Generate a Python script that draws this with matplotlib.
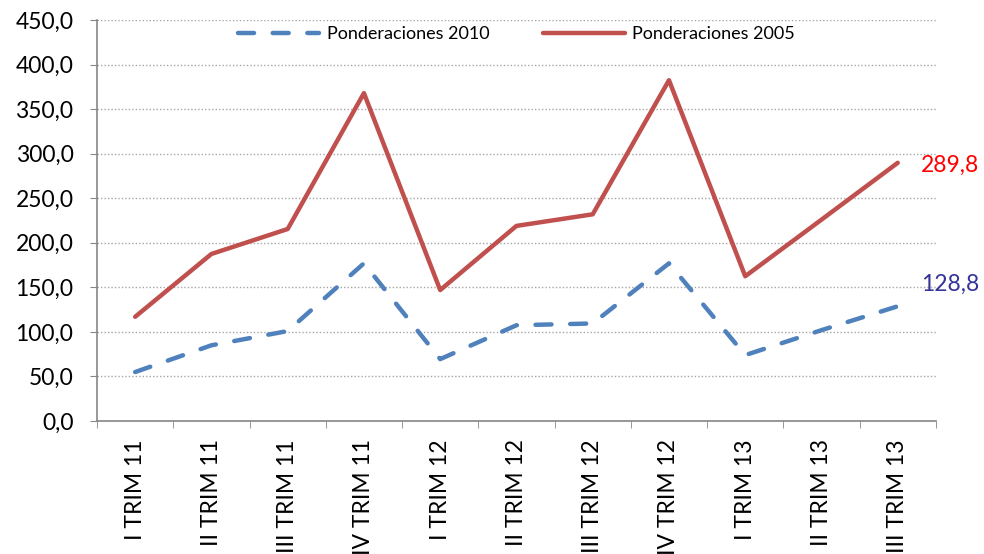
import numpy as np
import matplotlib.pyplot as plt
from matplotlib.ticker import FuncFormatter

# data
categorias = ['I TRIM 11', 'II TRIM 11', 'III TRIM 11', 'IV TRIM 11',
              'I TRIM 12', 'II TRIM 12', 'III TRIM 12', 'IV TRIM 12',
              'I TRIM 13', 'II TRIM 13', 'III TRIM 13']
pond_2010 = [55.0, 85.0, 101.0, 177.0, 69.5, 107.5, 109.5, 177.0, 74.0, 102.0, 128.8]
pond_2005 = [117.0, 187.5, 215.5, 368.0, 147.0, 219.0, 232.0, 382.5, 162.5, 226.0, 289.8]

plt.rcParams['font.family'] = ['Lato', 'DejaVu Sans']

fig = plt.figure(figsize=(9.84, 5.54), dpi=100)
ax = fig.add_axes([0.0986, 0.24, 0.8525, 0.7238])

x = np.arange(len(categorias))
ax.plot(x, pond_2010, color='#4F81BD', lw=3.2, dashes=(3.6, 4.2),
        dash_capstyle='round', label='Ponderaciones 2010')
ax.plot(x, pond_2005, color='#C0504D', lw=3.2, solid_capstyle='round',
        label='Ponderaciones 2005')

# end labels
ax.text(x[-1] + 0.3, pond_2005[-1] - 3, '289,8', color='#FF0000', fontsize=16.5,
        va='center', ha='left')
ax.text(x[-1] + 0.3, pond_2010[-1] + 25, '128,8', color='#333399', fontsize=16.5,
        va='center', ha='left')

ax.set_ylim(0, 450)
ax.set_yticks(np.arange(0, 451, 50))
ax.yaxis.set_major_formatter(FuncFormatter(lambda v, p: f'{v:.1f}'.replace('.', ',')))
ax.set_xlim(-0.5, len(categorias) - 0.5)
ax.set_xticks(x)
ax.set_xticklabels(categorias, rotation=90, fontsize=16.5)
ax.set_xticks(np.arange(-0.5, len(categorias)), minor=True)
ax.tick_params(axis='x', which='major', length=0, pad=13)
ax.tick_params(axis='x', which='minor', length=5, color='#868686', direction='out')
ax.tick_params(axis='y', labelsize=16.5, length=5, color='#868686', pad=12)

ax.grid(axis='y', linestyle=(0, (1, 1.5)), color='#A6A6A6', lw=1)
ax.set_axisbelow(True)
for s in ['top', 'right']:
    ax.spines[s].set_visible(False)
for s in ['left', 'bottom']:
    ax.spines[s].set_color('#868686')
    ax.spines[s].set_linewidth(1.2)

ax.legend(loc='upper center', bbox_to_anchor=(0.5, 1.025), ncol=2, frameon=False,
          fontsize=13, handlelength=4.5, columnspacing=3, handletextpad=0.4)

fig.savefig('out.png', dpi=100)
